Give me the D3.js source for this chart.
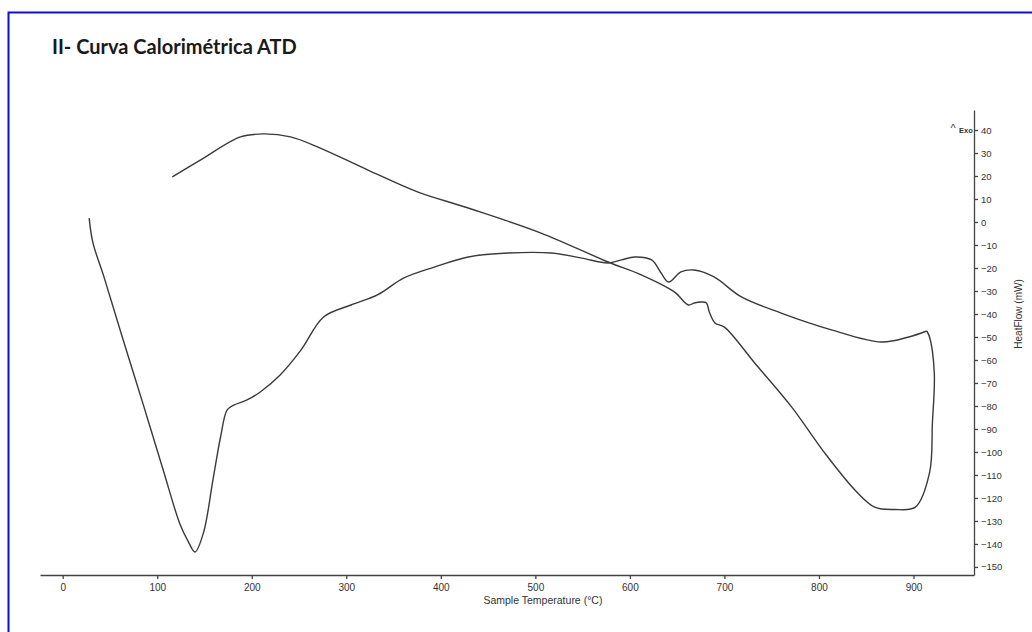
<!DOCTYPE html>
<html>
<head>
<meta charset="utf-8">
<script src="https://cdn.jsdelivr.net/npm/d3@7"></script>
<style>
  html, body { margin: 0; padding: 0; background: #fff; }
  svg { display: block; }
</style>
</head>
<body>
<svg id="chart" width="1032" height="632"></svg>
<script>
// ---- Data ----
const titleText = "II- Curva Calorimétrica ATD";
const xTicks = [0, 100, 200, 300, 400, 500, 600, 700, 800, 900];
const yTicks = [40, 30, 20, 10, 0, -10, -20, -30, -40, -50, -60, -70, -80, -90, -100, -110, -120, -130, -140, -150];
const xLabel = "Sample Temperature (°C)";
const yLabel = "HeatFlow (mW)";
const exoLabel = "Exo";

// first part of the record (temperature °C, heat flow mW)
const segATemp = [28, 32, 43, 64, 85, 106, 124, 133, 140, 149, 159, 167, 174, 181, 195, 209, 230, 252, 276, 305, 333, 361, 393, 429, 471, 517, 549, 577, 591, 605, 623, 633, 641, 654, 668, 689, 718, 760, 814, 866, 895, 914];
const segAFlow = [1.7, -9.1, -23, -51.3, -79.1, -107.4, -131.3, -139.1, -143.5, -135, -112, -93.5, -81.7, -79.6, -77.4, -73.9, -66.5, -55.7, -41.3, -36.1, -31.7, -24.3, -19.6, -15.2, -13.5, -13.5, -15.7, -17.8, -16.5, -15.2, -16.5, -22.2, -26.1, -21.7, -20.9, -23.9, -32.6, -39.6, -47, -52.2, -50, -47.4];
// return part of the record
const segBTemp = [914, 917, 922, 920, 917, 902, 880, 859, 838, 806, 771, 732, 700, 690, 684, 681, 676, 668, 662, 647, 612, 577, 506, 429, 376, 323, 270, 241, 212, 188, 146, 116];
const segBFlow = [-47.4, -50, -65.7, -87.4, -109, -124, -125, -124, -116.5, -100.4, -80.4, -61.3, -45.7, -43.9, -39.1, -35.2, -34.8, -35.2, -36.1, -30.4, -23, -17.4, -4.8, 6.1, 13, 22.6, 32.6, 37, 38.3, 37, 27, 19.6];

// ---- Layout ----
const svg = d3.select("#chart");
const x = d3.scaleLinear().domain([-24, 964]).range([40, 974]);
const y = d3.scaleLinear().domain([-153.5, 48.7]).range([575, 110]);

// frame
svg.append("rect").attr("x", 8.5).attr("y", 12.5).attr("width", 1060).attr("height", 700)
  .attr("fill", "none").attr("stroke", "#1010c8").attr("stroke-width", 2);

// title
svg.append("text").attr("x", 52).attr("y", 54)
  .attr("font-family", "Lato, 'Open Sans', sans-serif").attr("font-weight", "bold")
  .attr("font-size", 20).attr("fill", "#1a1a1a").text(titleText);

const axisColor = "#444";
const textColor = "#333";
const tickFont = "'Liberation Sans', Arial, sans-serif";

// x axis
const gx = svg.append("g").attr("transform", `translate(0,${y.range()[0]})`)
  .call(d3.axisBottom(x).tickValues(xTicks).tickSize(4).tickSizeOuter(0).tickFormat(d3.format("d")));
gx.selectAll("path, line").attr("stroke", axisColor).attr("stroke-width", 1.3);
gx.selectAll("text").attr("font-family", tickFont).attr("font-size", 10).attr("fill", textColor).attr("dy", "0.9em");

// y axis (right side)
const gy = svg.append("g").attr("transform", `translate(${x.range()[1]},0)`)
  .call(d3.axisRight(y).tickValues(yTicks).tickSize(4).tickSizeOuter(0).tickFormat(d3.format("d")));
gy.selectAll("path, line").attr("stroke", axisColor).attr("stroke-width", 1.3);
gy.selectAll("text").attr("font-family", tickFont).attr("font-size", 9.5).attr("fill", textColor).attr("x", 7);

// axis labels
svg.append("text").attr("x", x(508)).attr("y", 604).attr("text-anchor", "middle")
  .attr("font-family", tickFont).attr("font-size", 10.5).attr("fill", textColor).text(xLabel);
svg.append("text").attr("transform", `translate(1022,${y(-40)}) rotate(-90)`).attr("text-anchor", "middle")
  .attr("font-family", tickFont).attr("font-size", 10).attr("fill", textColor).text(yLabel);
svg.append("text").attr("x", 953).attr("y", y(41) + 4).attr("text-anchor", "middle")
  .attr("font-family", tickFont).attr("font-size", 11).attr("fill", textColor).text("^");
svg.append("text").attr("x", 966).attr("y", y(40) + 3).attr("text-anchor", "middle")
  .attr("font-family", tickFont).attr("font-size", 7.5).attr("font-weight", "bold").attr("fill", textColor).text(exoLabel);

// curves
const line = d3.line().x(d => x(d[0])).y(d => y(d[1])).curve(d3.curveCatmullRom.alpha(0.5));
const segA = segATemp.map((t, i) => [t, segAFlow[i]]);
const segB = segBTemp.map((t, i) => [t, segBFlow[i]]);
[segA, segB].forEach(seg => {
  svg.append("path").datum(seg).attr("d", line)
    .attr("fill", "none").attr("stroke", "#3a3a3a").attr("stroke-width", 1.4)
    .attr("stroke-linejoin", "round");
});
</script>
</body>
</html>
